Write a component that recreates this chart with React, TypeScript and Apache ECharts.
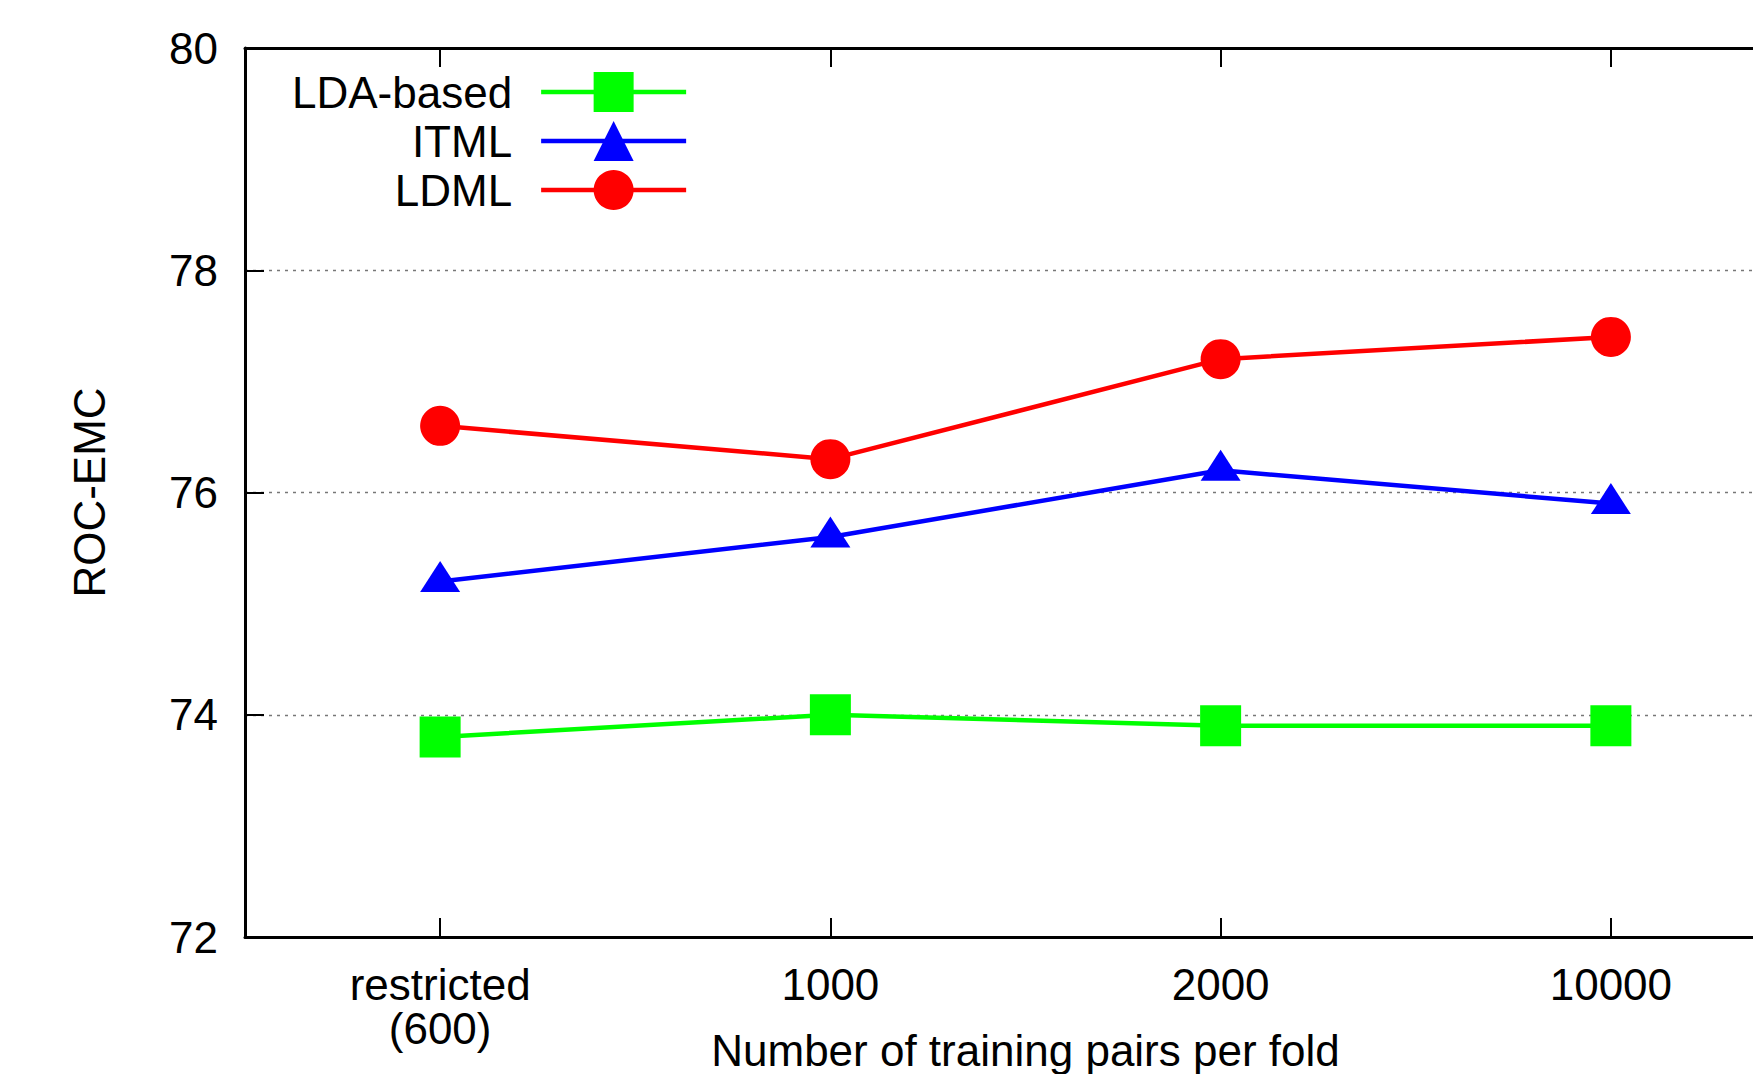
import React, { useEffect, useRef } from "react";
import * as echarts from "echarts";

const categories = ["restricted\n(600)", "1000", "2000", "10000"];
const ldaBased = [73.8, 74.0, 73.9, 73.9];
const itml = [75.2, 75.6, 76.2, 75.9];
const ldml = [76.6, 76.3, 77.2, 77.4];
const yMin = 72;
const yMax = 80;
const yInterval = 2;

const FONT = "Liberation Sans, Arial, Helvetica, sans-serif";

export default function App() {
  const ref = useRef<HTMLDivElement>(null);
  useEffect(() => {
    document.body.style.margin = "0";
    if (!ref.current) return;
    const chart = echarts.init(ref.current, null, { renderer: "svg" });
    const axisLineStyle = { color: "#000", width: 3 };
    chart.setOption({
      animation: false,
      backgroundColor: "#fff",
      textStyle: { fontFamily: FONT },
      grid: {
        left: 245,
        top: 48,
        right: -53,
        bottom: 137,
        containLabel: false,
        outerBoundsMode: "none",
      },
      legend: {
        orient: "vertical",
        align: "right",
        left: 292,
        top: 70,
        padding: 0,
        itemGap: 5,
        itemWidth: 145,
        itemHeight: 50,
        lineStyle: { width: 4.5 },
        textStyle: { fontSize: 44, color: "#000", fontFamily: FONT, padding: [0, 24, 0, 0] },
        data: ["LDA-based", "ITML", "LDML"],
      },
      xAxis: [
        {
          type: "category",
          data: categories,
          boundaryGap: true,
          position: "bottom",
          name: "Number of training pairs per fold",
          nameLocation: "middle",
          nameGap: 91,
          nameMoveOverlap: false,
          nameTextStyle: { fontSize: 44, color: "#000", fontFamily: FONT },
          axisLine: { show: true, lineStyle: axisLineStyle },
          axisTick: { show: true, inside: true, alignWithLabel: true, length: 19, lineStyle: { color: "#000", width: 2 } },
          axisLabel: { fontSize: 44, color: "#000", margin: 25, lineHeight: 44, fontFamily: FONT },
          splitLine: { show: false },
        },
        {
          type: "category",
          data: categories,
          boundaryGap: true,
          position: "top",
          axisLine: { show: true, lineStyle: axisLineStyle },
          axisTick: { show: true, inside: true, alignWithLabel: true, length: 19, lineStyle: { color: "#000", width: 2 } },
          axisLabel: { show: false },
          splitLine: { show: false },
        },
      ],
      yAxis: {
        type: "value",
        min: yMin,
        max: yMax,
        interval: yInterval,
        name: "ROC-EMC",
        nameLocation: "middle",
        nameGap: 134,
        nameMoveOverlap: false,
        nameTextStyle: { fontSize: 44, color: "#000", fontFamily: FONT },
        axisLine: { show: true, lineStyle: axisLineStyle },
        axisTick: { show: true, inside: true, length: 19, lineStyle: { color: "#000", width: 2 } },
        axisLabel: { fontSize: 44, color: "#000", margin: 27, fontFamily: FONT },
        splitLine: { show: true, lineStyle: { color: "#777", width: 1.3, type: [3, 5] } },
      },
      series: [
        {
          name: "LDA-based",
          type: "line",
          data: ldaBased,
          symbol: "rect",
          symbolSize: 41,
          lineStyle: { color: "#00ff00", width: 4.5 },
          itemStyle: { color: "#00ff00" },
          z: 3,
        },
        {
          name: "ITML",
          type: "line",
          data: itml,
          symbol: "triangle",
          symbolSize: [40, 31],
          symbolOffset: [0, -5],
          lineStyle: { color: "#0000ff", width: 4.5 },
          itemStyle: { color: "#0000ff" },
          z: 3,
        },
        {
          name: "LDML",
          type: "line",
          data: ldml,
          symbol: "circle",
          symbolSize: 40,
          lineStyle: { color: "#ff0000", width: 4.5 },
          itemStyle: { color: "#ff0000" },
          z: 3,
        },
      ],
    });
    return () => chart.dispose();
  }, []);
  return <div ref={ref} style={{ width: 1753, height: 1074 }} />;
}
